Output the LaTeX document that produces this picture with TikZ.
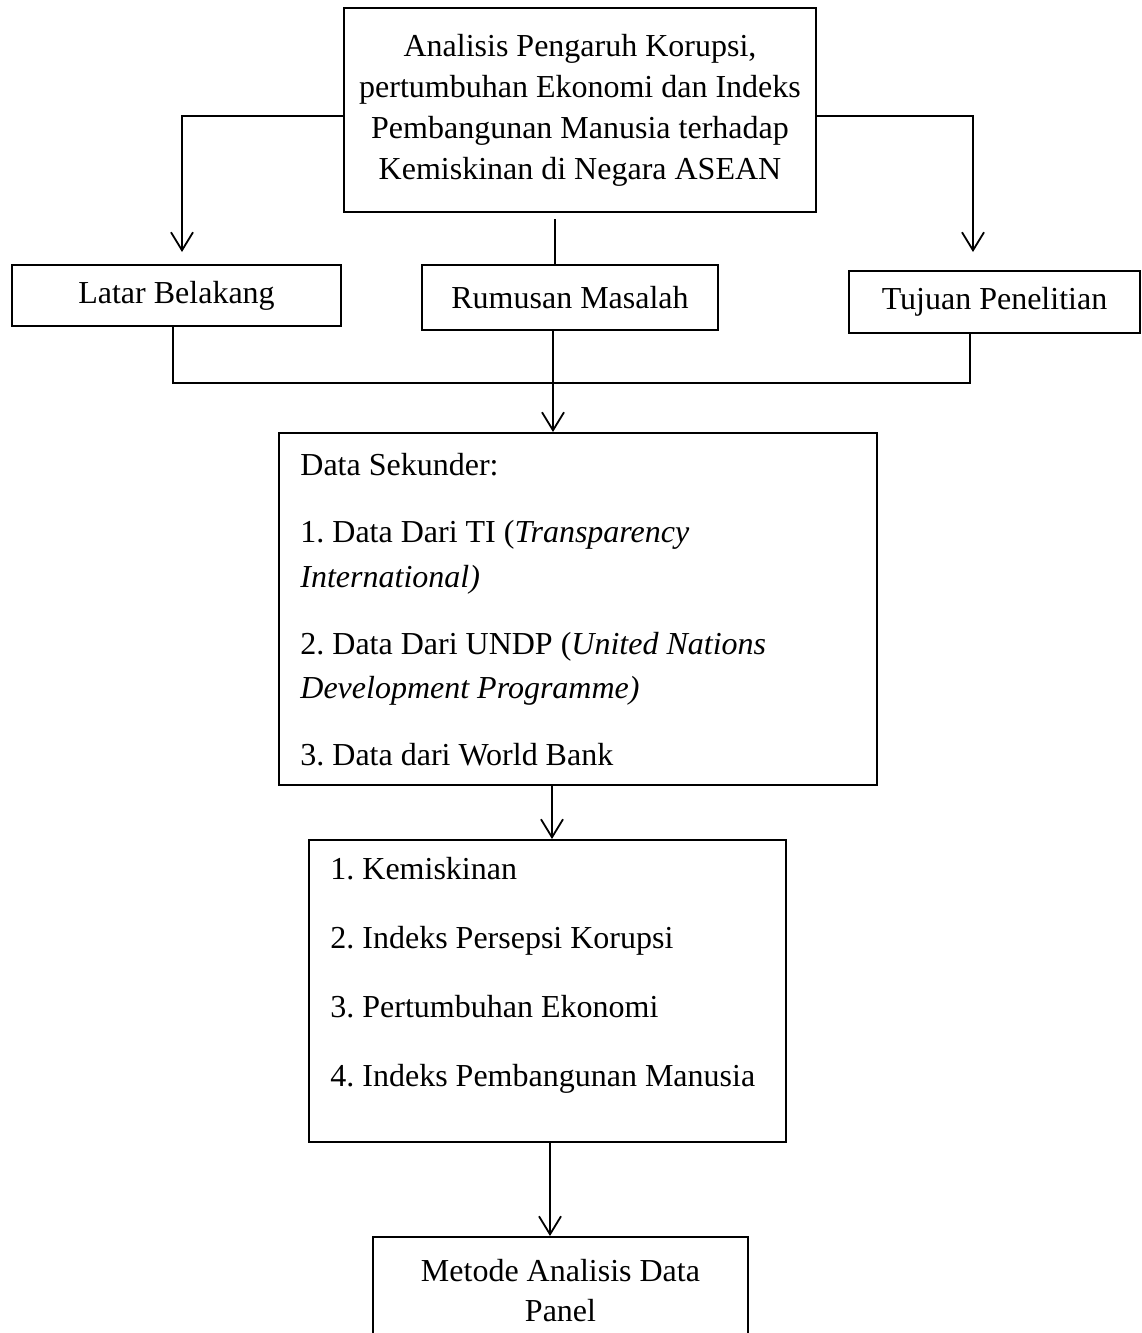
\documentclass[tikz,border=0pt]{standalone}
\usepackage{fontspec}
\setmainfont{Liberation Serif}
\usetikzlibrary{arrows.meta}
\frenchspacing
\tikzset{
  kotak/.style={draw, line width=1pt, inner sep=0pt, align=center, font=\fontsize{16}{20.5}\selectfont},
  isi/.style={inner sep=0pt, align=left, anchor=north west},
  garis/.style={line width=0.9pt},
  panah/.style={garis, -{Straight Barb[length=9pt,width=11pt]}}
}
\begin{document}
\begin{tikzpicture}[x=0.5pt, y=-0.5pt]
\useasboundingbox (0,0) rectangle (1141,1333);
% kotak judul
\node[kotak, minimum width=236pt, minimum height=102pt] (judul) at (580,110) {Analisis Pengaruh Korupsi,\\ pertumbuhan Ekonomi dan Indeks\\ Pembangunan Manusia terhadap\\ Kemiskinan di Negara ASEAN};
% tiga kotak
\node[kotak, minimum width=164.5pt, minimum height=30.5pt] (latar) at (176.5,295.5) {Latar Belakang};
\node[kotak, minimum width=148pt, minimum height=32.5pt] (rumusan) at (570,297.5) {Rumusan Masalah};
\node[kotak, minimum width=145.5pt, minimum height=31pt] (tujuan) at (994.5,302) {Tujuan Penelitian};
% data sekunder
\node[kotak, minimum width=299pt, minimum height=176pt] (data) at (578,609) {};
\node[isi, font=\fontsize{16}{22.25}\selectfont] (datateks) at (300,453) {Data Sekunder:\\[11.25pt]
1. Data Dari TI (\textit{Transparency}\\ \textit{International)}\\[11.25pt]
2. Data Dari UNDP (\textit{United Nations}\\ \textit{Development Programme)}\\[11.25pt]
3. Data dari World Bank};
% variabel
\node[kotak, minimum width=238.5pt, minimum height=151pt] (variabel) at (547.5,991) {};
\node[isi, font=\fontsize{16}{34.5}\selectfont] (variabelteks) at (330,857) {1. Kemiskinan\\ 2. Indeks Persepsi Korupsi\\ 3. Pertumbuhan Ekonomi\\ 4. Indeks Pembangunan Manusia};
% metode
\node[kotak, font=\fontsize{16}{20}\selectfont, minimum width=187.5pt, minimum height=54pt] (metode) at (560.5,1291) {Metode Analisis Data\\ Panel};
% garis
\coordinate (kiri) at (182,252);
\coordinate (kanan) at (973,252);
\draw[panah] ([yshift=-3pt]judul.west) -| (kiri);
\draw[panah] ([yshift=-3pt]judul.east) -| (kanan);
\coordinate (tengah) at (555,219);
\draw[garis] (tengah) -- (tengah |- rumusan.north);
\coordinate (gabungkiri) at (173,383);
\coordinate (gabungkanan) at (970,383);
\draw[garis] (latar.south -| gabungkiri) -- (gabungkiri) -- (gabungkanan) -- (tujuan.south -| gabungkanan);
\coordinate (turun1) at (553,0);
\coordinate (turun2) at (552,0);
\coordinate (turun3) at (550,0);
\draw[panah] (rumusan.south -| turun1) -- (data.north -| turun1);
\draw[panah] (data.south -| turun2) -- (variabel.north -| turun2);
\draw[panah] (variabel.south -| turun3) -- (metode.north -| turun3);
\end{tikzpicture}
\end{document}
